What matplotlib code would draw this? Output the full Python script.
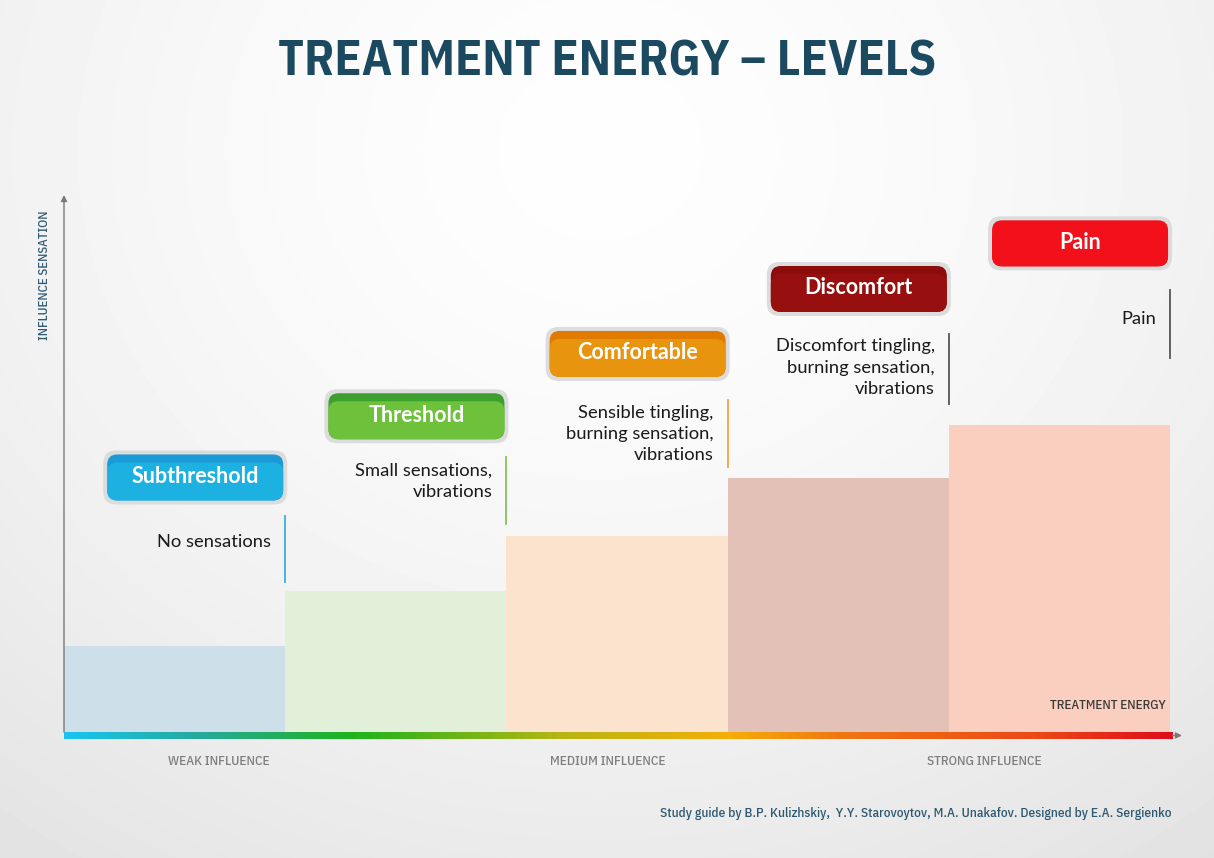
import numpy as np
import matplotlib
matplotlib.use('Agg')
import matplotlib.pyplot as plt
from matplotlib.patches import FancyBboxPatch
from matplotlib.colors import LinearSegmentedColormap

# ---------------- data ----------------
categories = ['Subthreshold', 'Threshold', 'Comfortable', 'Discomfort', 'Pain']
sensation = [16.0, 26.3, 36.5, 47.3, 57.2]
descriptions = ['No sensations',
                'Small sensations,\nvibrations',
                'Sensible tingling,\nburning sensation,\nvibrations',
                'Discomfort tingling,\nburning sensation,\nvibrations',
                'Pain']
influence_labels = ['WEAK INFLUENCE', 'MEDIUM INFLUENCE', 'STRONG INFLUENCE']
influence_pos = [0.70, 2.46, 4.16]

# layout (annotation positions in data units of the sensation axis)
label_y = [47.4, 58.8, 70.4, 82.5, 91.0]
desc_span = [(27.9, 40.2), (38.7, 51.2), (49.3, 61.8), (61.1, 74.1), (69.6, 82.3)]
desc_y = [35.4, 46.6, 55.5, 67.8, 76.9]

# styles
bar_colors = ['#cde0ea', '#e2efd9', '#fbe3cd', '#e4c1b6', '#fbcfbf']
box_top = ['#1a9bd7', '#3d9f2e', '#e07a00', '#8c0c0c', '#f2101a']
box_main = ['#1db1e2', '#6ec23b', '#e8940e', '#980f0f', '#f2101a']
line_colors = ['#3aaedc', '#86c45a', '#eba54a', '#555555', '#555555']
energy_cmap = LinearSegmentedColormap.from_list('energy', [
    (0.00, '#19c4f0'), (0.12, '#25aa9c'), (0.26, '#1fb31c'), (0.45, '#b8b614'),
    (0.60, '#f4ae08'), (0.70, '#f07812'), (0.88, '#ec4816'), (1.00, '#de0e1a')])

TITLEF = ['IBM Plex Sans Condensed', 'DejaVu Sans']
COND = ['IBM Plex Sans Condensed', 'DejaVu Sans']
BODY = ['Lato', 'DejaVu Sans']

W, H = 1214, 858
fig = plt.figure(figsize=(W / 100, H / 100), dpi=100)

# background
bg = fig.add_axes([0, 0, 1, 1])
yy, xx = np.mgrid[0:H, 0:W]
d = np.sqrt(((xx - 600) / 800.0) ** 2 + ((yy - 150) / 700.0) ** 2)
val = 0.995 - 0.075 * np.clip(d, 0, 1.6) ** 1.6
bg.imshow(val, cmap='gray', vmin=0, vmax=1, extent=[0, W, 0, H], origin='upper', aspect='auto')
bg.set_xlim(0, W)
bg.set_ylim(0, H)
bg.axis('off')

# main axes
x0px, x1px, ytop, ybot = 64, 1182, 195, 740
ax = fig.add_axes([x0px / W, (H - ybot) / H, (x1px - x0px) / W, (ybot - ytop) / H])
ax.patch.set_alpha(0)
for s in ax.spines.values():
    s.set_visible(False)
ax.set_yticks([])

xs = np.arange(len(categories))
ax.bar(xs, sensation, width=1.0, align='edge', color=bar_colors, zorder=2)

# energy gradient band
grad = np.linspace(0, 1, 400).reshape(1, -1)
ax.imshow(grad, cmap=energy_cmap, extent=[0, 5.01, -1.3, 0], aspect='auto', zorder=3)
ax.set_xlim(0, 5.054)
ax.set_ylim(-1.49, 100)

# axes arrows
ax.annotate('', xy=(0, 100), xytext=(0, 0),
            arrowprops=dict(arrowstyle='-|>', color='#7a7a7a', lw=1.0, mutation_scale=9,
                            shrinkA=0, shrinkB=0), zorder=4)
ax.annotate('', xy=(5.054, -0.65), xytext=(5.01, -0.65),
            arrowprops=dict(arrowstyle='-|>', color='#7a7a7a', lw=1.0, mutation_scale=9,
                            shrinkA=0, shrinkB=0), zorder=4)

ax.set_xticks(influence_pos)
ax.set_xticklabels(influence_labels, fontfamily=COND, fontweight='medium',
                   color='#7e7e7e', fontsize=9.5)
ax.tick_params(axis='x', length=0, pad=11)

ax.text(4.98, 5.0, 'TREATMENT ENERGY', ha='right', va='center', fontfamily=COND,
        fontweight='medium', fontsize=9.4, color='#3a3a3a', zorder=5)
ax.text(-20 / 1118, (740 - 210) / 545, 'INFLUENCE SENSATION', transform=ax.transAxes,
        rotation=90, ha='center', va='top', fontfamily=COND, fontweight='medium',
        fontsize=9.2, color='#2f5a74')

# descriptions
for i in range(len(categories)):
    y0, y1 = desc_span[i]
    ax.plot([i + 1, i + 1], [y0, y1], color=line_colors[i], lw=1.3, zorder=4)
    ax.annotate(descriptions[i], xy=(i + 1, desc_y[i]), xytext=(-10, 0),
                textcoords='offset points', ha='right', va='center', multialignment='right',
                fontfamily=BODY, fontsize=13.2, color='#1a1a1a', linespacing=1.42)

# label boxes (drawn in pixel space of the background, anchored to bars)
def to_bg(x, y):
    disp = ax.transData.transform((x, y))
    return bg.transData.inverted().transform(disp)

for i, cat in enumerate(categories):
    rx, cy = to_bg(i + 1.0, label_y[i])
    bw, bh = 176, 46
    left = rx - 2 - bw
    bottom = cy - bh / 2
    halo = FancyBboxPatch((left - 4, bottom - 4), bw + 8, bh + 8,
                          boxstyle='round,pad=0,rounding_size=13',
                          fc='#dcdcdc', ec='none', zorder=5)
    bg.add_patch(halo)
    top = FancyBboxPatch((left, bottom), bw, bh, boxstyle='round,pad=0,rounding_size=10',
                         fc=box_top[i], ec='none', zorder=6)
    bg.add_patch(top)
    main = FancyBboxPatch((left, bottom), bw, bh - 8, boxstyle='round,pad=0,rounding_size=10',
                          fc=box_main[i], ec='none', zorder=7)
    bg.add_patch(main)
    bg.text(left + bw / 2, cy + 1, cat, ha='center', va='center', color='white',
            fontfamily=BODY, fontweight='bold', fontsize=15.5, zorder=8)

# title and footer
bg.text(607, H - 62, 'TREATMENT ENERGY \u2013 LEVELS', ha='center', va='center',
        fontfamily=TITLEF, fontweight='bold', fontsize=35.7, color='#1b4a60')
bg.text(1171, H - 814, 'Study guide by B.P. Kulizhskiy,  Y.Y. Starovoytov, M.A. Unakafov. Designed by E.A. Sergienko',
        ha='right', va='center', fontfamily=COND, fontweight='medium', fontsize=9.6, color='#2c5870')

fig.savefig('out.png', dpi=100)
